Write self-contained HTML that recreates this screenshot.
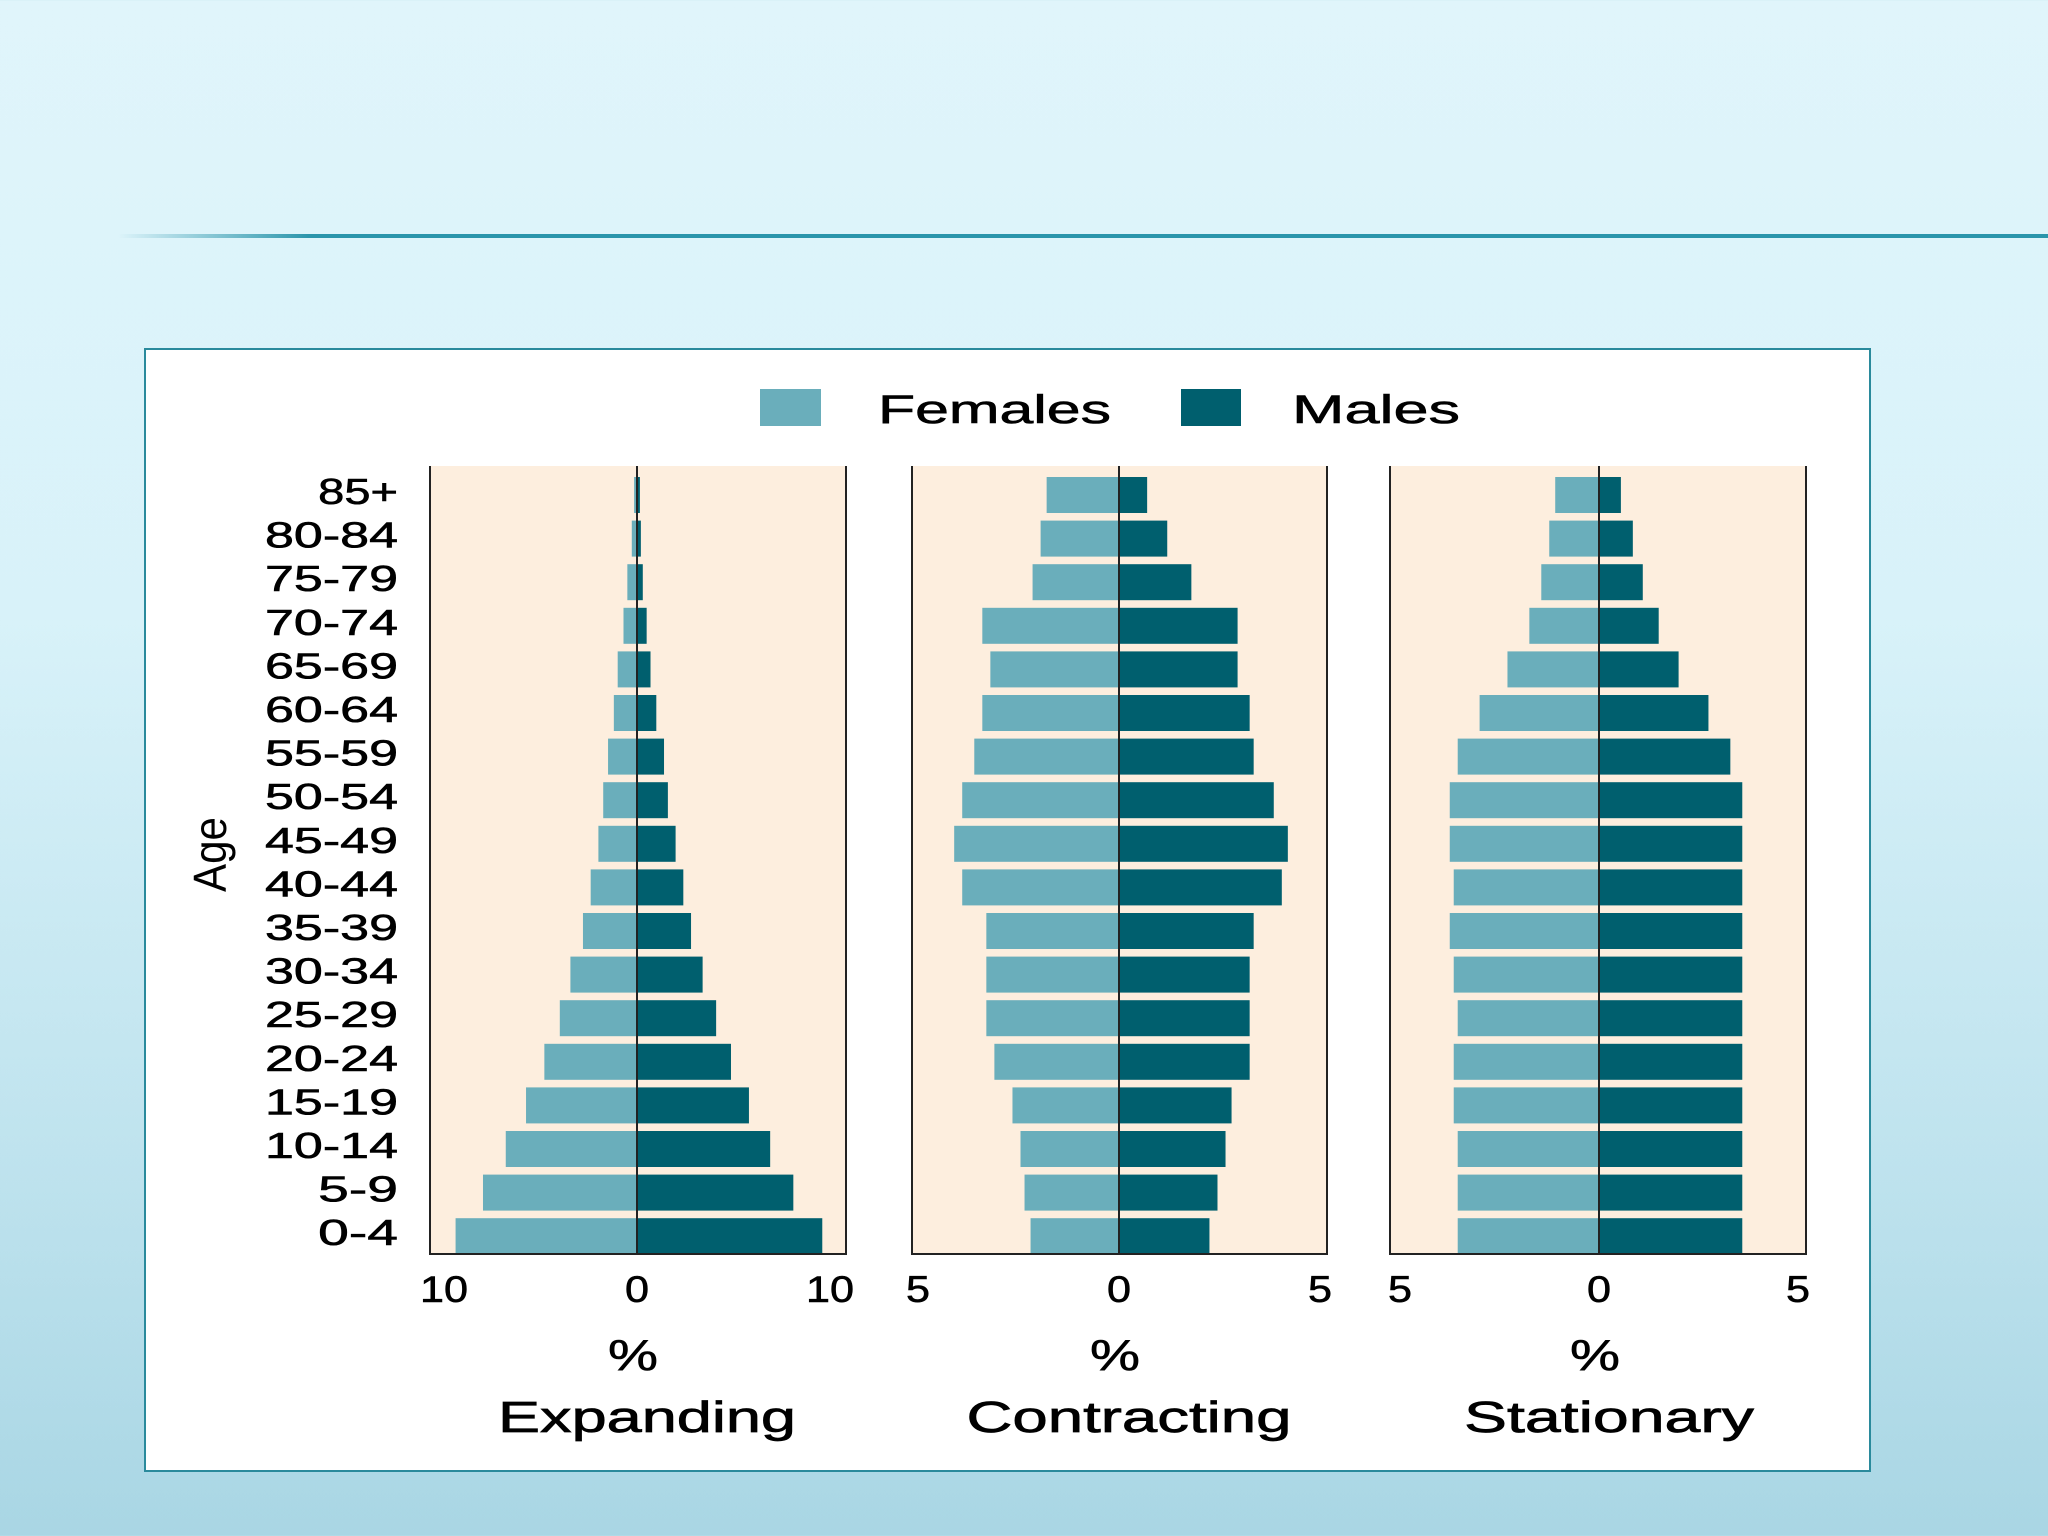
<!DOCTYPE html>
<html><head><meta charset="utf-8"><style>
html,body{margin:0;padding:0;width:2048px;height:1536px;overflow:hidden}
body{background:linear-gradient(180deg,#e0f5fb 0%,#d8f2f9 40%,#bfe3ee 75%,#a9d6e4 100%);font-family:"Liberation Sans",sans-serif}
</style></head><body>
<svg id="chart" width="2048" height="1536" xmlns="http://www.w3.org/2000/svg">
<defs><linearGradient id="ln" x1="0" x2="1"><stop offset="0" stop-color="#2a95ab" stop-opacity="0"/><stop offset="0.1" stop-color="#2a95ab"/><stop offset="1" stop-color="#2a95ab"/></linearGradient></defs>
<rect x="118" y="234" width="1930" height="4" fill="url(#ln)"/>
<rect x="145" y="349" width="1725" height="1122" fill="#fff" stroke="#2a8a9c" stroke-width="2"/>
<g>
<rect x="760" y="389" width="61" height="37" fill="#6aaebb"/>
<text x="878" y="423" font-size="40" textLength="233" lengthAdjust="spacingAndGlyphs" stroke="#000" stroke-width="0.6">Females</text>
<rect x="1181" y="389" width="60" height="37" fill="#005f6e"/>
<text x="1292" y="423" font-size="40" textLength="168" lengthAdjust="spacingAndGlyphs" stroke="#000" stroke-width="0.6">Males</text>
</g>
<text transform="translate(226,892) rotate(-90)" font-size="46" textLength="75" lengthAdjust="spacingAndGlyphs">Age</text>
<g id="plots"></g>
</svg>
<script>
const ages = ["85+","80-84","75-79","70-74","65-69","60-64","55-59","50-54","45-49","40-44","35-39","30-34","25-29","20-24","15-19","10-14","5-9","0-4"];
const expandingFemales = [0.15,0.27,0.5,0.7,1.0,1.2,1.5,1.75,2.0,2.4,2.8,3.45,4.0,4.8,5.75,6.8,7.98,9.4];
const expandingMales = [0.15,0.2,0.3,0.5,0.7,1.0,1.4,1.6,2.0,2.4,2.8,3.4,4.1,4.87,5.8,6.9,8.1,9.6];
const contractingFemales = [1.8,1.95,2.15,3.4,3.2,3.4,3.6,3.9,4.1,3.9,3.3,3.3,3.3,3.1,2.65,2.45,2.35,2.2];
const contractingMales = [0.7,1.2,1.8,2.95,2.95,3.25,3.35,3.85,4.2,4.05,3.35,3.25,3.25,3.25,2.8,2.65,2.45,2.25];
const stationaryFemales = [1.1,1.25,1.45,1.75,2.3,3.0,3.55,3.75,3.75,3.65,3.75,3.65,3.55,3.65,3.65,3.55,3.55,3.55];
const stationaryMales = [0.55,0.85,1.1,1.5,2.0,2.75,3.3,3.6,3.6,3.6,3.6,3.6,3.6,3.6,3.6,3.6,3.6,3.6];
const expandingTicks = ["10","0","10"];
const contractingTicks = ["5","0","5"];
const stationaryTicks = ["5","0","5"];
const panelTitles = ["Expanding","Contracting","Stationary"];

const NS="http://www.w3.org/2000/svg";
const plotsG=document.getElementById('plots');
function mk(tag,attrs,parent){const e=document.createElementNS(NS,tag);for(const k in attrs)e.setAttribute(k,attrs[k]);(parent||plotsG).appendChild(e);return e;}
const plotTop=466,plotBottom=1254,row0=495,step=43.6,barH=36;
function yPos(i){return row0+i*step;}
const panels=[
 {name:'expanding',x0:430,x1:846,c:637,unit:19.3,tick:10,f:expandingFemales,m:expandingMales,t:expandingTicks},
 {name:'contracting',x0:912,x1:1327,c:1119,unit:40.2,tick:5,f:contractingFemales,m:contractingMales,t:contractingTicks},
 {name:'stationary',x0:1390,x1:1806,c:1599,unit:39.8,tick:5,f:stationaryFemales,m:stationaryMales,t:stationaryTicks}
];
panels.forEach((p,pi)=>{
 const pg=mk('g',{});
 
 
 const bg=mk('rect',{x:p.x0,y:plotTop,width:p.x1-p.x0,height:plotBottom-plotTop,fill:'#fdeede'},pg);
 
 
 const xs=v=>p.c+v*p.unit;
 ages.forEach((a,i)=>{
  const y=yPos(i)-barH/2;
  const fb=mk('rect',{x:xs(-p.f[i]),y:y,width:xs(0)-xs(-p.f[i]),height:barH,fill:'#6aaebb'},pg);
  
  
  const mb=mk('rect',{x:xs(0),y:y,width:xs(p.m[i])-xs(0),height:barH,fill:'#005f6e'},pg);
  
  
 });
 const ax=mk('path',{d:`M${p.x0} ${plotTop}V${plotBottom}H${p.x1}V${plotTop}M${p.c} ${plotTop}V${plotBottom}`,stroke:'#222',fill:'none','stroke-width':2},pg);
 
 
 [-p.tick,0,p.tick].forEach((v,k)=>{
  const t=mk('text',{x:xs(v),y:1302,'font-size':37,'text-anchor':'middle',textLength:p.t[k].length*24,lengthAdjust:'spacingAndGlyphs',stroke:'#000','stroke-width':0.6},pg);
  t.textContent=p.t[k];
  
  
 });
 const pc=mk('text',{x:p.c-4,y:1370,'font-size':44,'text-anchor':'middle',textLength:50,lengthAdjust:'spacingAndGlyphs',stroke:'#000','stroke-width':0.6},pg);
 pc.textContent='%';
 
 
 const tt=mk('text',{x:p.c+10,y:1432,'font-size':44,'text-anchor':'middle',textLength:[298,325,290][pi],lengthAdjust:'spacingAndGlyphs',stroke:'#000','stroke-width':0.7},pg);
 tt.textContent=panelTitles[pi];
 
 
});
ages.forEach((a,i)=>{
 const t=mk('text',{x:398,y:yPos(i)+9,'font-size':36,'text-anchor':'end',textLength:a.length*26.6,lengthAdjust:'spacingAndGlyphs',stroke:'#000','stroke-width':0.6});
 t.textContent=a;
 
 
});
</script>
</body></html>
